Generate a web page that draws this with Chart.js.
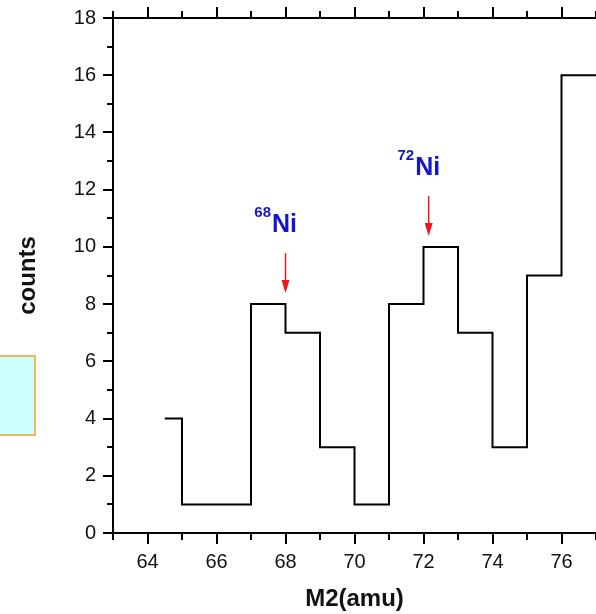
<!DOCTYPE html>
<html>
<head>
<meta charset="utf-8">
<script src="https://cdn.jsdelivr.net/npm/chart.js@4.4.1/dist/chart.umd.min.js"></script>
<style>
  html, body { margin: 0; padding: 0; background: #fff; }
  #wrap { width: 596px; height: 614px; }
</style>
</head>
<body>
<div id="wrap"><canvas id="hist"></canvas></div>
<script>
// histogram bins: left edge of each bin and its count
const binEdges = [64.5, 65, 66, 67, 68, 69, 70, 71, 72, 73, 74, 75, 76];
const binCounts = [4, 1, 1, 8, 7, 3, 1, 8, 10, 7, 3, 9, 16];
const lastEdge = 77;

// marked isotopes
const peakMass = ["68", "72"];
const peakX = [68, 72.15];
const peakCount = [8, 10];

const xMin = 63, xMax = 77;
const yMin = 0, yMax = 18;

const FONT = "'Liberation Sans', Arial, Helvetica, sans-serif";

const points = binEdges.map((x, i) => ({ x: x, y: binCounts[i] }));
points.push({ x: lastEdge, y: binCounts[binCounts.length - 1] });

// outward ticks, long on labelled values, short in between; top axis has ticks only
const tickMarks = {
  id: "tickMarks",
  afterDraw(chart) {
    const { ctx, chartArea: a, scales: { x, y } } = chart;
    ctx.save();
    ctx.strokeStyle = "#000";
    ctx.lineWidth = 2;
    ctx.beginPath();
    ctx.moveTo(a.left - 1, a.top);
    ctx.lineTo(a.right, a.top);
    ctx.stroke();
    for (let v = xMin; v <= xMax; v++) {
      const px = Math.round(x.getPixelForValue(v));
      const len = v % 2 === 0 ? 11 : 7;
      ctx.beginPath();
      ctx.moveTo(px, a.bottom);
      ctx.lineTo(px, a.bottom + len);
      ctx.moveTo(px, a.top);
      ctx.lineTo(px, a.top - len);
      ctx.stroke();
    }
    for (let v = yMin; v <= yMax; v++) {
      const py = Math.round(y.getPixelForValue(v));
      const len = v % 2 === 0 ? 10 : 6;
      ctx.beginPath();
      ctx.moveTo(a.left, py);
      ctx.lineTo(a.left - len, py);
      ctx.stroke();
    }
    ctx.restore();
  }
};

// isotope labels with red arrows pointing at their bins
const peakLabels = {
  id: "peakLabels",
  afterDatasetsDraw(chart) {
    const { ctx, scales: { x, y } } = chart;
    ctx.save();
    peakMass.forEach((m, i) => {
      const px = x.getPixelForValue(peakX[i]);
      const tip = y.getPixelForValue(peakCount[i]) - 11;
      const tail = tip - 40;
      ctx.strokeStyle = "#e8181c";
      ctx.fillStyle = "#e8181c";
      ctx.lineWidth = 1.5;
      ctx.beginPath();
      ctx.moveTo(px, tail);
      ctx.lineTo(px, tip - 10);
      ctx.stroke();
      ctx.beginPath();
      ctx.moveTo(px - 4, tip - 13);
      ctx.lineTo(px + 4, tip - 13);
      ctx.lineTo(px, tip);
      ctx.closePath();
      ctx.fill();

      const base = tail - 21;
      ctx.fillStyle = "#1515cc";
      ctx.textBaseline = "alphabetic";
      ctx.font = "bold 25px " + FONT;
      ctx.textAlign = "center";
      ctx.fillText("Ni", px - 1, base);
      const w = ctx.measureText("Ni").width;
      ctx.font = "bold 15px " + FONT;
      ctx.textAlign = "right";
      ctx.fillText(m, px - 1 - w / 2 - 1, base - 15);
    });
    ctx.restore();
  }
};

// small shaded box at the left margin
const sideBox = {
  id: "sideBox",
  beforeDraw(chart) {
    const ctx = chart.ctx;
    ctx.save();
    ctx.fillStyle = "#ccffff";
    ctx.fillRect(0, 356, 35, 79);
    ctx.strokeStyle = "#f5a01e";
    ctx.lineWidth = 1.5;
    ctx.strokeRect(-1, 356, 36, 79);
    ctx.restore();
  }
};

new Chart(document.getElementById("hist"), {
  type: "line",
  data: {
    datasets: [{
      data: points,
      stepped: "before",
      borderColor: "#000",
      borderWidth: 2,
      pointRadius: 0,
      fill: false
    }]
  },
  options: {
    responsive: true,
    maintainAspectRatio: false,
    animation: false,
    layout: { padding: { top: 18, right: 0, left: 0, bottom: 0 } },
    plugins: { legend: { display: false }, tooltip: { enabled: false } },
    scales: {
      x: {
        type: "linear",
        min: xMin,
        max: xMax,
        afterFit: (s) => { s.height = 81; s.paddingLeft = 0; s.paddingRight = 0; },
        grid: { display: false },
        border: { display: true, color: "#000", width: 2 },
        ticks: {
          stepSize: 1,
          autoSkip: false,
          maxRotation: 0,
          padding: 9,
          color: "#111",
          font: { family: FONT, size: 20 },
          callback: (v) => (v % 2 === 0 ? String(v) : "")
        },
        title: {
          display: true,
          text: "M2(amu)",
          color: "#111",
          font: { family: FONT, size: 24, weight: "bold" },
          padding: { top: 0, bottom: 0 }
        }
      },
      y: {
        min: yMin,
        max: yMax,
        afterFit: (s) => { s.width = 113; s.paddingTop = 0; s.paddingBottom = 0; },
        grid: { display: false },
        border: { display: true, color: "#000", width: 2 },
        ticks: {
          stepSize: 2,
          padding: 9,
          color: "#111",
          font: { family: FONT, size: 20 }
        },
        title: {
          display: true,
          text: "counts",
          color: "#111",
          font: { family: FONT, size: 24, weight: "bold" },
          padding: { top: 14, bottom: 0 }
        }
      }
    }
  },
  plugins: [sideBox, tickMarks, peakLabels]
});
</script>
</body>
</html>
